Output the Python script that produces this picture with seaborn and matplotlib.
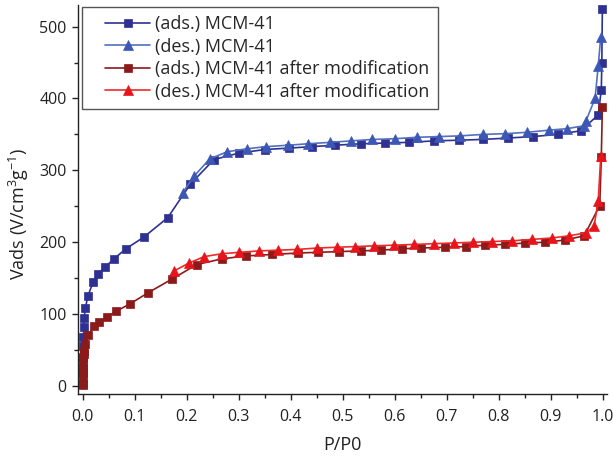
import numpy as np
import pandas as pd
import matplotlib
matplotlib.use("Agg")
import matplotlib.pyplot as plt
from matplotlib.ticker import MultipleLocator
from matplotlib.legend_handler import HandlerLine2D
import seaborn as sns

# Relative pressure P/P0 and adsorbed volume for each branch
ads_mcm_p = [0.0005, 0.0008, 0.001, 0.001, 0.0012, 0.0018, 0.0025, 0.005, 0.0096, 0.02,
             0.029, 0.042, 0.06, 0.083, 0.117, 0.163, 0.207, 0.252, 0.30, 0.35, 0.397,
             0.44, 0.485, 0.535, 0.582, 0.627, 0.676, 0.724, 0.769, 0.818, 0.865, 0.913,
             0.957, 0.991, 0.997, 0.998, 0.999]
ads_mcm_v = [3, 20, 40, 55, 68, 82, 95, 109, 125, 145,
             156, 165, 177, 191, 207, 234, 281, 315, 324, 329, 331,
             333, 335, 337, 338, 339, 341, 342, 343, 345, 347, 350,
             355, 377, 412, 449, 524]

des_mcm_p = [0.996, 0.991, 0.985, 0.967, 0.963, 0.931, 0.897, 0.855, 0.811, 0.769, 0.726,
             0.684, 0.642, 0.600, 0.557, 0.515, 0.476, 0.433, 0.395, 0.353, 0.315,
             0.278, 0.244, 0.214, 0.192]
des_mcm_v = [486, 445, 400, 368, 362, 358, 356, 353, 351, 350, 348,
             347, 346, 344, 343, 341, 339, 337, 335, 333, 330,
             326, 316, 292, 269]

ads_mod_p = [0.0005, 0.0006, 0.0007, 0.0008, 0.0009, 0.001, 0.0015, 0.0025, 0.005, 0.01,
             0.022, 0.032, 0.046, 0.064, 0.09, 0.126, 0.172, 0.219, 0.268, 0.314, 0.363,
             0.413, 0.453, 0.493, 0.535, 0.573, 0.613, 0.65, 0.696, 0.736, 0.774, 0.812,
             0.851, 0.888, 0.927, 0.964, 0.994, 0.997, 0.999]
ads_mod_v = [2, 11, 18, 25, 32, 39, 45, 49, 59, 71,
             83, 89, 96, 104, 114, 130, 149, 169, 177, 181, 183,
             185, 186, 187, 188, 189, 191, 192, 193, 194, 196, 197,
             199, 200, 203, 209, 251, 318, 388]

des_mod_p = [0.996, 0.991, 0.983, 0.967, 0.935, 0.903, 0.864, 0.826, 0.787, 0.75, 0.713,
             0.675, 0.637, 0.599, 0.56, 0.524, 0.488, 0.451, 0.412, 0.376, 0.339,
             0.301, 0.267, 0.233, 0.204, 0.175]
des_mod_v = [320, 257, 222, 213, 209, 206, 204, 202, 201, 200, 199,
             198, 197, 196, 195, 194, 193, 192, 190, 189, 188,
             186, 184, 180, 171, 160]

labels = ["(ads.) MCM-41", "(des.) MCM-41",
          "(ads.) MCM-41 after modification", "(des.) MCM-41 after modification"]


class IndentedLineHandler(HandlerLine2D):
    """Legend line sample that starts a little to the right of the frame."""

    def __init__(self, indent=11, **kw):
        super().__init__(**kw)
        self.indent = indent

    def get_xdata(self, legend, xdescent, ydescent, width, height, fontsize):
        x0 = -xdescent + self.indent
        x1 = width - xdescent
        xdata = np.array([x0, x1])
        xmarker = np.array([(x0 + x1) / 2.0])
        return xdata, xmarker


sns.set_style("ticks")
plt.rcParams["font.family"] = ["Open Sans", "DejaVu Sans"]
plt.rcParams["mathtext.fontset"] = "custom"
plt.rcParams["mathtext.rm"] = "Open Sans"
plt.rcParams["mathtext.it"] = "Open Sans"

fig = plt.figure(figsize=(6.13, 4.57), dpi=100)
ax = fig.add_axes([0.127, 0.138, 0.863, 0.851])

series = [
    (ads_mcm_p, ads_mcm_v, labels[0], "#2E3192", "#2E3192", "s", 5.5),
    (des_mcm_p, des_mcm_v, labels[1], "#5270C0", "#3C58B4", "^", 7),
    (ads_mod_p, ads_mod_v, labels[2], "#8B1A1A", "#8B1A1A", "s", 5.5),
    (des_mod_p, des_mod_v, labels[3], "#EE2A2A", "#E8141C", "^", 7),
]

for p, v, lab, lc, mc, mk, ms in series:
    df = pd.DataFrame({"P/P0": p, "V": v})
    sns.lineplot(data=df, x="P/P0", y="V", ax=ax, sort=False, estimator=None,
                 color=lc, linewidth=1.2, marker=mk, markersize=ms,
                 markerfacecolor=mc, markeredgecolor=mc, markeredgewidth=0.5,
                 label=lab)

ax.set_xlim(-0.0096, 1.0077)
ax.set_ylim(-11, 530)
ax.xaxis.set_major_locator(MultipleLocator(0.1))
ax.xaxis.set_minor_locator(MultipleLocator(0.05))
ax.yaxis.set_major_locator(MultipleLocator(100))
ax.yaxis.set_minor_locator(MultipleLocator(50))
ax.xaxis.set_major_formatter(plt.FuncFormatter(lambda x, _: f"{x:.1f}"))

for side in ["top", "right"]:
    ax.spines[side].set_visible(False)
for side in ["left", "bottom"]:
    ax.spines[side].set_color("#222222")
    ax.spines[side].set_linewidth(1.0)

ax.tick_params(axis="both", which="major", direction="out", length=4.5, width=1,
               labelsize=11.5, color="#222222", labelcolor="#222222")
ax.tick_params(axis="both", which="minor", direction="out", length=3, width=1,
               color="#222222")
ax.tick_params(axis="x", which="major", pad=6)

ax.set_xlabel("P/P0", fontsize=13, color="#222222")
ax.set_ylabel(r"Vads (V/cm$^{3}$g$^{-1}$)", fontsize=13, color="#222222")
ax.xaxis.set_label_coords(0.501, -0.108)
ax.yaxis.set_label_coords(-0.088, 0.463)

handles, labs = ax.get_legend_handles_labels()
leg = ax.legend(handles, labs, loc="upper left", bbox_to_anchor=(0.008, 0.995),
                fontsize=13, frameon=True, fancybox=False, framealpha=1,
                edgecolor="#555555", handlelength=3.3, handletextpad=0.3,
                labelspacing=0.25, borderpad=0.45, borderaxespad=0,
                handler_map={h: IndentedLineHandler(indent=11) for h in handles})
leg.get_frame().set_linewidth(1.0)

fig.savefig("out.png", dpi=100)
